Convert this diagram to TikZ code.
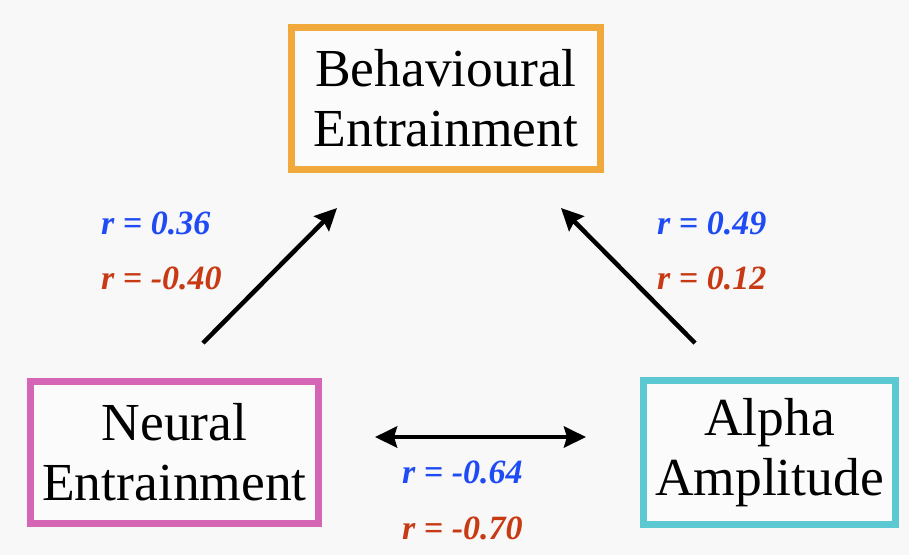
\documentclass[tikz,border=0pt]{standalone}
\usepackage{fontspec}
\setmainfont{Liberation Serif}
\usetikzlibrary{arrows.meta}
\definecolor{bgc}{HTML}{F8F8F8}
\definecolor{boxorange}{HTML}{F2A93B}
\definecolor{boxpink}{HTML}{D466B5}
\definecolor{boxcyan}{HTML}{5CC8D2}
\definecolor{rblue}{HTML}{1F4BF5}
\definecolor{rred}{HTML}{C83A14}
\begin{document}
\begin{tikzpicture}[x=1pt,y=-1pt,
  varbox/.style={draw, line width=7pt, fill=white!40!bgc, align=center, inner sep=0pt,
    font=\fontsize{53.5}{60}\selectfont},
  rlabel/.style={anchor=west, inner sep=0pt, font=\fontsize{34}{36}\selectfont\bfseries\itshape},
  conn/.style={line width=4.5pt, -{Stealth[length=22pt,width=21pt,inset=3pt]}},
  dconn/.style={line width=4.5pt, {Stealth[length=22pt,width=21pt,inset=3pt]}-{Stealth[length=22pt,width=21pt,inset=3pt]}}
]
\fill[bgc] (0,0) rectangle (909,555);
\useasboundingbox (0,0) rectangle (909,555);

\node[varbox, draw=boxorange, minimum width=309pt, minimum height=142pt] (be) at (446,98.5) {Behavioural\\Entrainment};
\node[varbox, draw=boxpink, minimum width=288pt, minimum height=142pt] (ne) at (174.5,452.5) {Neural\\Entrainment};
\node[varbox, draw=boxcyan, minimum width=252pt, minimum height=144pt] (aa) at (769.5,452.5) {Alpha\\Amplitude\vphantom{E}};

\coordinate (neS) at (203,343);
\coordinate (beL) at (337,208);
\coordinate (aaS) at (695,343);
\coordinate (beR) at (561,208);
\coordinate (neR) at (375,437);
\coordinate (aaL) at (586,437);

\draw[conn] (neS) -- (beL);
\draw[conn] (aaS) -- (beR);
\draw[dconn] (neR) -- (aaL);

\node[rlabel, text=rblue] (l1) at (101,223) {r = 0.36};
\node[rlabel, text=rred] (l2) at (101,278) {r = -0.40};
\node[rlabel, text=rblue] (l3) at (657,223) {r = 0.49};
\node[rlabel, text=rred] (l4) at (657,278) {r = 0.12};
\node[rlabel, text=rblue] (l5) at (402,472) {r = -0.64};
\node[rlabel, text=rred] (l6) at (402,528) {r = -0.70};
\end{tikzpicture}
\end{document}
